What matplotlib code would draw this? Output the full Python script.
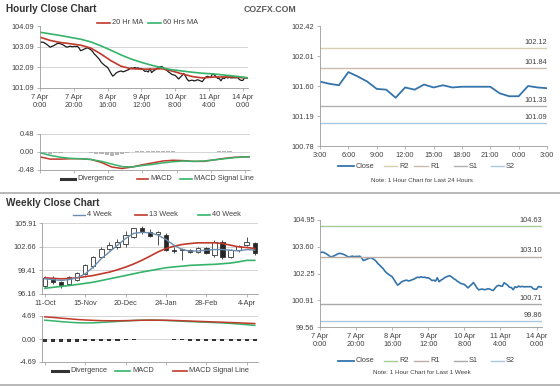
import matplotlib
matplotlib.use('Agg')
import matplotlib.pyplot as plt
from matplotlib.lines import Line2D

plt.rcParams['font.family'] = ['Liberation Sans', 'DejaVu Sans']

# ---- hourly data (1 hour bars, last week) ----
hourly_close = [
    103.30, 103.33, 103.32, 103.27, 103.22, 103.15, 103.08, 103.12, 103.15, 103.20,
    103.25, 103.27, 103.25, 103.22, 103.18, 103.12, 103.08, 103.11, 103.13, 103.10,
    103.12, 103.11, 103.13, 103.05, 102.91, 102.94, 102.98, 103.02, 103.05, 103.01,
    102.96, 102.88, 102.76, 102.68, 102.59, 102.50, 102.37, 102.28, 102.21, 102.15,
    102.09, 101.95, 101.80, 101.67, 101.73, 101.82, 101.87, 101.90, 101.92, 101.88,
    101.90, 101.94, 101.97, 102.02, 102.07, 102.05, 102.09, 102.06, 102.07, 102.03,
    102.04, 101.98, 101.90, 101.92, 101.87, 102.04, 101.84, 101.92, 101.97, 102.04,
    102.09, 102.12, 102.14, 102.08, 102.00, 101.95, 101.87, 101.82, 101.75, 101.73,
    101.70, 101.62, 101.53, 101.62, 101.70, 101.80, 101.67, 101.52, 101.43, 101.46,
    101.47, 101.44, 101.45, 101.49, 101.47, 101.43, 101.40, 101.52, 101.62,
    101.66, 101.63, 101.61, 101.79, 101.73, 101.66, 101.56, 101.55, 101.44, 101.58,
    101.55, 101.62, 101.58, 101.61, 101.58, 101.59, 101.59, 101.59, 101.59, 101.50,
    101.46, 101.46, 101.60, 101.58, 101.57,
]
hourly_tick_pos = [0, 20, 40, 60, 80, 100, 120]
hourly_tick_lab = ['7 Apr\n0:00', '7 Apr\n20:00', '8 Apr\n16:00', '9 Apr\n12:00',
                   '10 Apr\n8:00', '11 Apr\n4:00', '14 Apr\n0:00']

ma_idx = [0, 6, 12, 18, 24, 30, 36, 42, 48, 54, 60, 66, 72, 78, 84, 90, 96, 102, 108, 114, 120, 123]
ma20 = [103.57, 103.41, 103.31, 103.25, 103.18, 103.04, 102.75, 102.42, 102.15, 102.03, 102.01,
        102.01, 102.03, 101.92, 101.78, 101.65, 101.58, 101.62, 101.63, 101.63, 101.59, 101.58]
ma60 = [103.81, 103.73, 103.65, 103.56, 103.47, 103.34, 103.15, 102.93, 102.70, 102.50, 102.34,
        102.20, 102.08, 101.98, 101.92, 101.86, 101.81, 101.78, 101.73, 101.68, 101.62, 101.59]
macd_h = [-0.13, -0.19, -0.19, -0.18, -0.18, -0.20, -0.28, -0.40, -0.44, -0.40, -0.34,
          -0.29, -0.24, -0.22, -0.23, -0.25, -0.25, -0.21, -0.17, -0.14, -0.13, -0.13]
signal_h = [-0.02, -0.09, -0.14, -0.17, -0.18, -0.20, -0.25, -0.32, -0.39, -0.40, -0.36,
            -0.33, -0.29, -0.26, -0.24, -0.25, -0.24, -0.21, -0.18, -0.15, -0.13, -0.13]
div_idx = list(range(0, 124, 3))
div_h = [-0.01, -0.03, -0.04, -0.03, -0.02, -0.01, -0.01, -0.01, -0.01, -0.01, -0.02,
         -0.04, -0.06, -0.08, -0.10, -0.09, -0.06, -0.03, 0.00, 0.02, 0.03, 0.03,
         0.03, 0.04, 0.04, 0.03, 0.02, 0.01, 0.00, -0.01, -0.01, 0.00, -0.01, 0.00,
         0.01, 0.02, 0.02, 0.02, 0.01, 0.01, 0.01, 0.00]

day_tick_lab = ['3:00', '6:00', '9:00', '12:00', '15:00', '18:00', '21:00', '0:00', '3:00']
levels_day = [102.12, 101.84, 101.33, 101.09]
levels_week = [104.63, 103.10, 100.71, 99.86]
level_names = ['R2', 'R1', 'S1', 'S2']

# ---- weekly data ----
weeks = list(range(27))
w_open = [97.32, 98.39, 97.75, 97.55, 98.11, 98.95, 99.97, 101.27, 102.43, 102.66, 103.12,
          104.05, 105.21, 104.75, 104.50, 104.29, 102.25, 102.30, 102.20, 101.96, 102.57,
          101.50, 103.36, 101.27, 102.29, 102.89, 103.20]
w_close = [98.39, 97.79, 97.35, 98.48, 99.04, 100.11, 101.27, 102.43, 102.89, 103.36, 104.29,
           105.21, 104.75, 104.15, 104.65, 102.20, 102.15, 102.20, 101.92, 102.57, 101.85,
           103.36, 101.27, 102.29, 102.75, 103.36, 101.80]
w_high = [98.60, 98.70, 97.90, 98.60, 99.20, 100.30, 101.40, 102.60, 103.35, 103.80, 104.80,
          105.30, 105.50, 105.10, 104.90, 104.60, 102.60, 102.50, 102.30, 102.70, 102.70,
          103.60, 103.55, 102.40, 102.90, 104.00, 103.35]
w_low = [97.00, 97.60, 96.95, 97.40, 98.00, 98.80, 99.80, 101.20, 102.20, 102.40, 102.70,
         103.90, 104.50, 104.00, 102.90, 102.05, 101.80, 100.80, 101.80, 101.80, 101.70,
         101.30, 101.05, 101.10, 101.95, 102.80, 101.50]
ma4w = [98.25, 98.15, 98.02, 98.15, 98.39, 98.95, 99.87, 101.04, 101.96, 102.89, 103.82,
        104.52, 104.66, 104.61, 104.29, 103.68, 102.89, 102.29, 102.06, 102.10, 102.20,
        102.29, 102.29, 102.20, 102.10, 102.29, 102.20]
ma13w = [98.39, 98.32, 98.25, 98.30, 98.39, 98.55, 98.71, 98.95, 99.18, 99.50, 99.87,
         100.30, 100.80, 101.36, 101.96, 102.43, 102.75, 102.99, 103.12, 103.22, 103.22,
         103.22, 103.12, 102.89, 102.66, 102.57, 102.43]
ma40w = [96.95, 97.08, 97.20, 97.32, 97.47, 97.63, 97.79, 98.02, 98.25, 98.48, 98.71,
         98.95, 99.18, 99.38, 99.58, 99.78, 99.90, 100.00, 100.11, 100.16, 100.21, 100.25,
         100.34, 100.43, 100.60, 100.80, 100.80]
macd_w = [3.84, 3.70, 3.55, 3.42, 3.32, 3.28, 3.30, 3.38, 3.48, 3.58, 3.68, 3.78, 3.84, 3.86,
          3.84, 3.78, 3.70, 3.62, 3.55, 3.48, 3.42, 3.35, 3.28, 3.18, 3.05, 2.92, 2.78]
signal_w = [4.52, 4.40, 4.25, 4.12, 3.98, 3.88, 3.80, 3.74, 3.72, 3.72, 3.74, 3.78, 3.82, 3.84,
            3.84, 3.82, 3.78, 3.72, 3.66, 3.60, 3.54, 3.47, 3.42, 3.36, 3.30, 3.22, 3.15]
div_w = [-0.60, -0.60, -0.60, -0.60, -0.55, -0.50, -0.50, -0.45, -0.40, -0.35, -0.30, -0.20,
         -0.10, -0.05, -0.05, -0.10, -0.20, -0.30, -0.35, -0.40, -0.40, -0.40, -0.40, -0.40,
         -0.40, -0.40, -0.40]
week_tick_pos = [0, 5, 10, 15, 20, 25]
week_tick_lab = ['11-Oct', '15-Nov', '20-Dec', '24-Jan', '28-Feb', '4-Apr']

W, H = 560, 386
fig = plt.figure(figsize=(W / 100, H / 100), dpi=100)
fig.patch.set_facecolor('white')

RED = '#c0392b'
GREEN = '#35b36a'
BLUE = '#3574ab'
GRID = '#cfcfcf'
TXT = '#404040'
FS = 5.3


def box(x0, y0, x1, y1):
    return [x0 / W, 1 - y1 / H, (x1 - x0) / W, (y1 - y0) / H]


def fx(x):
    return x / W


def fy(y):
    return 1 - y / H


def style(ax, grid=True):
    for s in ['top', 'right']:
        ax.spines[s].set_visible(False)
    for s in ['left', 'bottom']:
        ax.spines[s].set_color('#9a9a9a')
        ax.spines[s].set_linewidth(0.6)
    ax.tick_params(labelsize=FS, colors='#9a9a9a', labelcolor=TXT, length=2, width=0.5, pad=2)
    if grid:
        ax.yaxis.grid(True, color=GRID, lw=0.6)
    ax.set_axisbelow(True)


def legend_item(x0, x1, y, color, label, lw=1.2):
    fig.add_artist(Line2D([fx(x0), fx(x1)], [fy(y), fy(y)], color=color, lw=lw))
    fig.text(fx(x1 + 2), fy(y), label, fontsize=FS, color=TXT, va='center', ha='left')


# ---- hourly close chart ----
ax = fig.add_axes(box(40, 26.5, 248, 88))
style(ax)
hx = list(range(len(hourly_close)))
ax.plot(hx, hourly_close, color='#1c1c1c', lw=0.9)
ax.plot(ma_idx, ma20, color=RED, lw=1.2)
ax.plot(ma_idx, ma60, color=GREEN, lw=1.2)
ax.set_xlim(0, 123)
ax.set_ylim(101.09, 104.09)
ax.set_yticks([101.09, 102.09, 103.09, 104.09])
ax.set_yticklabels(['%.2f' % v for v in [101.09, 102.09, 103.09, 104.09]])
ax.set_xticks(hourly_tick_pos)
ax.set_xticklabels(hourly_tick_lab, linespacing=1.3)

# ---- hourly MACD ----
ax = fig.add_axes(box(40, 134, 250, 170))
style(ax)
ax.bar(div_idx, div_h, width=2.4, color='#b4b4b4', lw=0)
ax.plot(ma_idx, macd_h, color=RED, lw=1.1)
ax.plot(ma_idx, signal_h, color=GREEN, lw=1.1)
ax.set_xlim(0, 123)
ax.set_ylim(-0.48, 0.48)
ax.set_yticks([-0.48, 0.0, 0.48])
ax.set_yticklabels(['-0.48', '0.00', '0.48'])
ax.set_xticks(hourly_tick_pos)
ax.set_xticklabels([])

# ---- last 24 hours ----
day = hourly_close[-25:]
ax = fig.add_axes(box(320, 26, 547, 146))
style(ax, grid=False)
ax.plot(range(len(day)), day, color=BLUE, lw=1.3)
day_colors = ['#d8cfb0', '#cbbcae', '#b2b2b2', '#a9c8e0']
for lv, c in zip(levels_day, day_colors):
    ax.axhline(lv, color=c, lw=1.0)
    ax.text(24, lv + 0.03, '%.2f' % lv, ha='right', va='bottom', fontsize=FS, color=TXT)
ax.set_xlim(0, 24)
ax.set_ylim(100.78, 102.42)
ax.set_yticks([100.78, 101.19, 101.60, 102.01, 102.42])
ax.set_yticklabels(['100.78', '101.19', '101.60', '102.01', '102.42'])
ax.set_xticks(range(0, 25, 3))
ax.set_xticklabels(day_tick_lab)

# ---- weekly close chart ----
ax = fig.add_axes(box(42, 223.3, 258, 294))
style(ax)
body_lo = [min(o, c) for o, c in zip(w_open, w_close)]
body_h = [max(abs(c - o), 0.06) for o, c in zip(w_open, w_close)]
fills = ['white' if c > o else '#262626' for o, c in zip(w_open, w_close)]
ax.vlines(weeks, w_low, w_high, color='#333333', lw=0.6, zorder=2)
ax.bar(weeks, body_h, bottom=body_lo, width=0.55, color=fills, edgecolor='#333333', lw=0.6, zorder=3)
ax.plot(weeks, ma40w, color=GREEN, lw=1.2, zorder=4)
ax.plot(weeks, ma13w, color=RED, lw=1.2, zorder=4)
ax.plot(weeks, ma4w, color='#6b8db0', lw=1.0, zorder=4)
ax.set_xlim(-0.35, 26.4)
ax.set_ylim(96.16, 105.91)
ax.set_yticks([96.16, 99.41, 102.66, 105.91])
ax.set_yticklabels(['96.16', '99.41', '102.66', '105.91'])
ax.set_xticks(week_tick_pos)
ax.set_xticklabels(week_tick_lab)

# ---- weekly MACD ----
ax = fig.add_axes(box(42, 316, 258, 362))
style(ax)
ax.bar(weeks, div_w, width=0.5, color='#333333', lw=0)
ax.plot(weeks, macd_w, color=GREEN, lw=1.1)
ax.plot(weeks, signal_w, color=RED, lw=1.1)
ax.set_xlim(-0.35, 26.4)
ax.set_ylim(-4.69, 4.69)
ax.set_yticks([-4.69, 0.0, 4.69])
ax.set_yticklabels(['-4.69', '0.00', '4.69'])
ax.set_xticks(week_tick_pos)
ax.set_xticklabels([])

# ---- last week hourly ----
ax = fig.add_axes(box(320, 220, 542, 327))
style(ax, grid=False)
ax.plot(hx, hourly_close, color=BLUE, lw=1.2)
week_colors = ['#a6cc96', '#bcaea6', '#a9a9a9', '#a9c8e0']
for lv, c in zip(levels_week, week_colors):
    ax.axhline(lv, color=c, lw=1.0)
    ax.text(123, lv + 0.12, '%.2f' % lv, ha='right', va='bottom', fontsize=FS, color=TXT)
ax.set_xlim(0, 123)
ax.set_ylim(99.56, 104.95)
ax.set_yticks([99.56, 100.91, 102.25, 103.60, 104.95])
ax.set_yticklabels(['99.56', '100.91', '102.25', '103.60', '104.95'])
ax.set_xticks(hourly_tick_pos)
ax.set_xticklabels(hourly_tick_lab, linespacing=1.3)

# ---- titles, legends, notes ----
fig.text(fx(6), fy(9), 'Hourly Close Chart', fontsize=7.2, fontweight='bold', color='#333333', va='center')
fig.text(fx(244), fy(10), 'COZFX.COM', fontsize=6.3, fontweight='bold', color='#5a5a5a', va='center')
fig.text(fx(6), fy(203), 'Weekly Close Chart', fontsize=7.2, fontweight='bold', color='#333333', va='center')

legend_item(97, 110, 22.5, RED, '20 Hr MA')
legend_item(148, 161, 22.5, GREEN, '60 Hrs MA')

legend_item(61, 75, 178.5, '#333333', 'Divergence', lw=2.2)
legend_item(137, 148, 178.5, RED, 'MACD')
legend_item(180, 192, 178.5, GREEN, 'MACD Signal Line')

legend_item(73, 85, 215, '#6b8db0', '4 Week', lw=1.0)
legend_item(135, 147, 215, RED, '13 Week')
legend_item(198, 210, 215, GREEN, '40 Week')

legend_item(52, 68, 371, '#333333', 'Divergence', lw=2.2)
legend_item(115, 130, 371, GREEN, 'MACD')
legend_item(173, 187, 371, RED, 'MACD Signal Line')

for y, cols in [(166, day_colors), (361, week_colors)]:
    legend_item(338, 354, y, BLUE, 'Close', lw=1.3)
    for (x0, x1), name, c in zip([(384, 397), (414, 428), (454, 467), (491, 504)], level_names, cols):
        legend_item(x0, x1, y, c, name, lw=1.0)

fig.text(fx(422), fy(180), 'Note: 1 Hour Chart for Last 24 Hours', fontsize=4.5, color=TXT, ha='center', va='center')
fig.text(fx(422), fy(373), 'Note: 1 Hour Chart for Last 1 Week', fontsize=4.5, color=TXT, ha='center', va='center')

for y in [193, 385]:
    fig.add_artist(Line2D([0, 1], [fy(y), fy(y)], color='#b8b8b8', lw=1.4))

fig.savefig('out.png', dpi=100)
